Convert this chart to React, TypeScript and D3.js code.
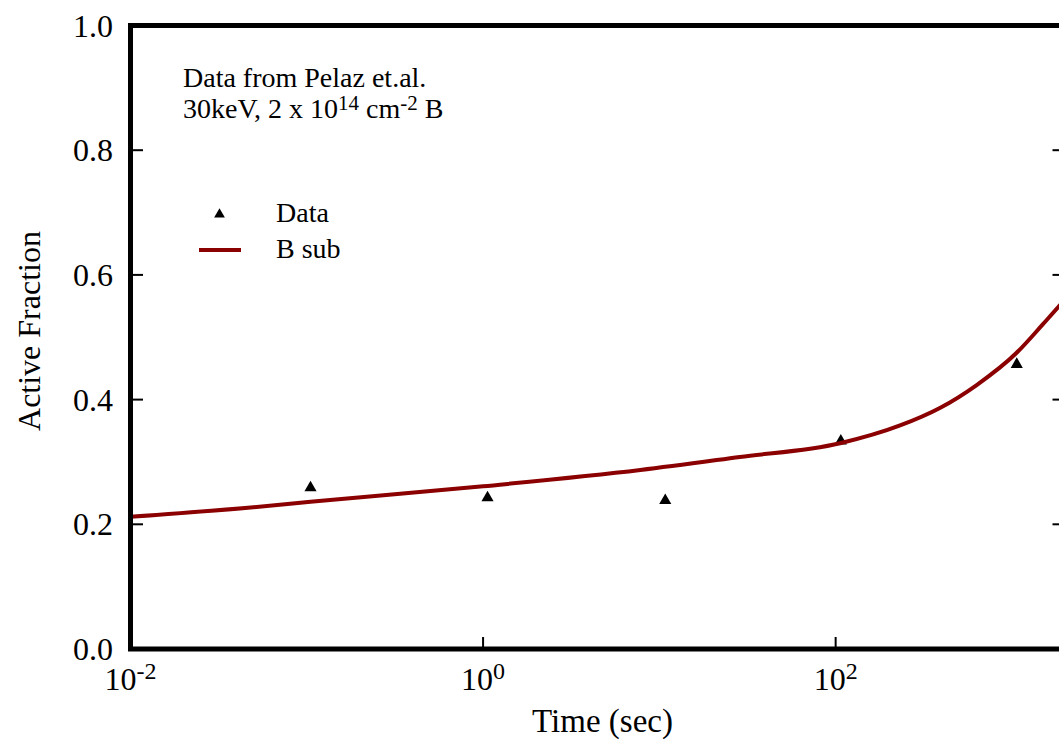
import React from "react";
import * as d3 from "d3";

// Measured activation of boron (Pelaz et al.)
const dataTimes = [0.105, 1.06, 10.8, 107, 1065];
const dataValues = [0.2585, 0.2425, 0.238, 0.3335, 0.4565];

// Simulated substitutional boron fraction
const curveTimes = [0.01, 0.048, 0.105, 1, 7.8, 28.6, 106, 232, 390, 631, 1060, 1500, 1832, 2000];
const curveValues = [0.212, 0.227, 0.236, 0.261, 0.287, 0.308, 0.33, 0.3585, 0.3865, 0.4234, 0.4747, 0.521, 0.5485, 0.56];

const yTicks = [0, 0.2, 0.4, 0.6, 0.8, 1.0];
const xTickExponents = [-2, 0, 2];

const W = 1059;
const H = 741;
const FONT = "'Liberation Serif', 'Times New Roman', Times, serif";
const RED = "#8B0000";

export default function App() {
  const x = d3.scaleLog().domain([0.01, 2000]).range([130.5, 1065]);
  const y = d3.scaleLinear().domain([0, 1]).range([649, 25.5]);

  const line = d3
    .line<number>()
    .x((_, i) => x(curveTimes[i]))
    .y((v) => y(v))
    .curve(d3.curveMonotoneX);

  const tri = d3.symbol().type(d3.symbolTriangle).size(64)()!;
  const triSmall = d3.symbol().type(d3.symbolTriangle).size(50)()!;

  const [x0, x1] = x.range();
  const [y0, y1] = y.range();

  return (
    <svg
      width={W}
      height={H}
      style={{ position: "absolute", left: 0, top: 0, background: "#fff" }}
      fontFamily={FONT}
    >
      <defs>
        <clipPath id="plot-clip">
          <rect x={x0} y={y1} width={x1 - x0} height={y0 - y1} />
        </clipPath>
      </defs>

      {/* data markers */}
      {dataTimes.map((t, i) => (
        <path key={i} d={tri} transform={`translate(${x(t)},${y(dataValues[i])})`} fill="#000" />
      ))}

      {/* model curve */}
      <path d={line(curveValues)!} fill="none" stroke={RED} strokeWidth={4} clipPath="url(#plot-clip)" />

      {/* y ticks on both sides */}
      {yTicks.slice(1, -1).map((v) => (
        <g key={v}>
          <line x1={x0} x2={x0 + 12.5} y1={y(v)} y2={y(v)} stroke="#000" strokeWidth={2} />
          <line x1={x1} x2={x1 - 12.5} y1={y(v)} y2={y(v)} stroke="#000" strokeWidth={2} />
        </g>
      ))}
      {yTicks.map((v) => (
        <text key={v} x={113} y={y(v) + 11} fontSize={32} textAnchor="end" fill="#000">
          {v.toFixed(1)}
        </text>
      ))}

      {/* x ticks */}
      {xTickExponents.slice(1).map((e) => (
        <line key={e} x1={x(10 ** e)} x2={x(10 ** e)} y1={y0} y2={y0 - 12} stroke="#000" strokeWidth={2} />
      ))}
      {xTickExponents.map((e) => (
        <text key={e} x={x(10 ** e)} y={690} fontSize={32} textAnchor="middle" fill="#000">
          10
          <tspan fontSize={24} dy={-11}>
            {e}
          </tspan>
        </text>
      ))}

      {/* frame */}
      <rect x={x0} y={y1} width={x1 - x0} height={y0 - y1} fill="none" stroke="#000" strokeWidth={5} />

      {/* axis titles */}
      <text x={602.5} y={732} fontSize={33} textAnchor="middle" fill="#000">
        Time (sec)
      </text>
      <text transform="translate(40,331) rotate(-90)" fontSize={32} textAnchor="middle" fill="#000">
        Active Fraction
      </text>

      {/* annotation */}
      <text x={183} y={87} fontSize={28} fill="#000">
        Data from Pelaz et.al.
      </text>
      <text x={183} y={118} fontSize={28} fill="#000">
        30keV, 2 x 10
        <tspan fontSize={21} dy={-8}>14</tspan>
        <tspan dy={8}> cm</tspan>
        <tspan fontSize={21} dy={-8}>-2</tspan>
        <tspan dy={8}> B</tspan>
      </text>

      {/* legend */}
      <path d={triSmall} transform="translate(219.5,214.5)" fill="#000" />
      <text x={276} y={222} fontSize={28} fill="#000">
        Data
      </text>
      <line x1={199} x2={241} y1={250} y2={250} stroke={RED} strokeWidth={4} />
      <text x={276} y={258} fontSize={28} fill="#000">
        B sub
      </text>
    </svg>
  );
}
